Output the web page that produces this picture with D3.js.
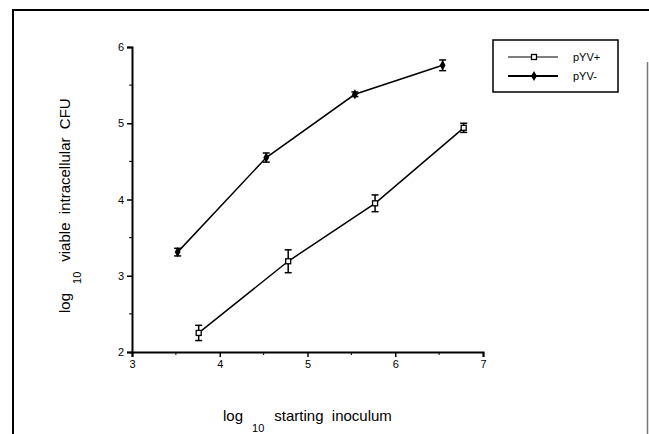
<!DOCTYPE html>
<html>
<head>
<meta charset="utf-8">
<script src="https://cdn.jsdelivr.net/npm/d3@7"></script>
<style>
  body { margin: 0; background: #fff; }
  svg { display: block; font-family: "Liberation Sans", Arial, sans-serif; }
  .title { white-space: pre; }
</style>
</head>
<body>
<svg width="649" height="434"></svg>
<script>
// data
var seriesNames = ['pYV+', 'pYV-'];
var plusX = [3.76, 4.78, 5.77, 6.78];
var plusY = [2.25, 3.19, 3.95, 4.94];
var plusErr = [0.10, 0.15, 0.11, 0.06];
var minusX = [3.52, 4.53, 5.54, 6.54];
var minusY = [3.31, 4.55, 5.38, 5.76];
var minusErr = [0.05, 0.06, 0.03, 0.07];
var xTicks = [3, 4, 5, 6, 7];
var yTicks = [2, 3, 4, 5, 6];

var svg = d3.select('svg');

var x = d3.scaleLinear().domain([3, 7]).range([132, 483]);
var y = d3.scaleLinear().domain([2, 6]).range([352, 47]);

// page frame
svg.append('path')
  .attr('d', 'M13,434 L13,10 L649,10')
  .attr('fill', 'none').attr('stroke', '#000').attr('stroke-width', 2);
svg.append('line')
  .attr('x1', 647.5).attr('x2', 647.5).attr('y1', 62).attr('y2', 434)
  .attr('stroke', '#777').attr('stroke-width', 1.5);

// axes
var xAxis = svg.append('g')
  .attr('transform', 'translate(0,352)')
  .call(d3.axisBottom(x).tickValues(xTicks).tickSize(5).tickFormat(d3.format('d')));
var yAxis = svg.append('g')
  .attr('transform', 'translate(132,0)')
  .call(d3.axisLeft(y).tickValues(yTicks).tickSize(5).tickFormat(d3.format('d')));

[xAxis, yAxis].forEach(function(a) {
  a.select('.domain').attr('stroke-width', 2);
  a.selectAll('.tick line').attr('stroke-width', 1.5);
  a.selectAll('.tick text').attr('font-size', 11).attr('font-family', '"Liberation Sans", Arial, sans-serif');
});

// minor ticks
svg.append('g').selectAll('line')
  .data([3.5, 4.5, 5.5, 6.5])
  .enter().append('line')
  .attr('x1', function(d) { return x(d); }).attr('x2', function(d) { return x(d); })
  .attr('y1', 352).attr('y2', 355)
  .attr('stroke', '#000');
svg.append('g').selectAll('line')
  .data([2.5, 3.5, 4.5, 5.5])
  .enter().append('line')
  .attr('y1', function(d) { return y(d); }).attr('y2', function(d) { return y(d); })
  .attr('x1', 129).attr('x2', 132)
  .attr('stroke', '#000');

function pts(xs, ys, es) {
  return xs.map(function(v, i) { return { x: v, y: ys[i], e: es[i] }; });
}
var plus = pts(plusX, plusY, plusErr);
var minus = pts(minusX, minusY, minusErr);

var line = d3.line().x(function(d) { return x(d.x); }).y(function(d) { return y(d.y); });

function drawSeries(data, filled) {
  var g = svg.append('g');
  g.append('path').attr('d', line(data))
    .attr('fill', 'none').attr('stroke', '#000').attr('stroke-width', 1.5);

  var eb = g.selectAll('.eb').data(data).enter().append('g');
  eb.append('line')
    .attr('x1', function(d) { return x(d.x); }).attr('x2', function(d) { return x(d.x); })
    .attr('y1', function(d) { return y(d.y + d.e); }).attr('y2', function(d) { return y(d.y - d.e); })
    .attr('stroke', '#000').attr('stroke-width', 1.5);
  [1, -1].forEach(function(s) {
    eb.append('line')
      .attr('x1', function(d) { return x(d.x) - 3.5; }).attr('x2', function(d) { return x(d.x) + 3.5; })
      .attr('y1', function(d) { return y(d.y + s * d.e); }).attr('y2', function(d) { return y(d.y + s * d.e); })
      .attr('stroke', '#000').attr('stroke-width', 1.5);
  });

  if (filled) {
    g.selectAll('.m').data(data).enter().append('path')
      .attr('transform', function(d) { return 'translate(' + x(d.x) + ',' + y(d.y) + ')'; })
      .attr('d', d3.symbol(d3.symbolDiamond, 30)())
      .attr('fill', '#000');
  } else {
    g.selectAll('.m').data(data).enter().append('rect')
      .attr('x', function(d) { return x(d.x) - 2.5; }).attr('y', function(d) { return y(d.y) - 2.5; })
      .attr('width', 5).attr('height', 5)
      .attr('fill', '#fff').attr('stroke', '#000').attr('stroke-width', 1.3);
  }
}
drawSeries(plus, false);
drawSeries(minus, true);

// legend
var lg = svg.append('g');
lg.append('rect').attr('x', 493).attr('y', 40).attr('width', 125).attr('height', 52)
  .attr('fill', '#fff').attr('stroke', '#000').attr('stroke-width', 1.5);
seriesNames.forEach(function(name, i) {
  var ly = 57 + i * 19;
  lg.append('line').attr('x1', 508).attr('x2', 558).attr('y1', ly).attr('y2', ly)
    .attr('stroke', '#000').attr('stroke-width', i === 0 ? 1.2 : 2);
  if (i === 0) {
    lg.append('rect').attr('x', 531.5).attr('y', ly - 2.5).attr('width', 5).attr('height', 5)
      .attr('fill', '#fff').attr('stroke', '#000').attr('stroke-width', 1.3);
  } else {
    lg.append('path').attr('transform', 'translate(534,' + ly + ')')
      .attr('d', d3.symbol(d3.symbolDiamond, 30)()).attr('fill', '#000');
  }
  lg.append('text').attr('x', 573).attr('y', ly + 4).attr('font-size', 11).text(name);
});

// axis titles
var xt = svg.append('text').attr('class', 'title').attr('x', 223).attr('y', 421).attr('font-size', 15);
xt.append('tspan').text('log');
xt.append('tspan').attr('dy', 11).attr('dx', 9).attr('font-size', 11).text('10');
xt.append('tspan').attr('dy', -11).attr('dx', 10).text('starting  inoculum');

var yt = svg.append('text').attr('class', 'title').attr('transform', 'translate(70,313) rotate(-90)').attr('font-size', 15);
yt.append('tspan').text('log');
yt.append('tspan').attr('dy', 11).attr('dx', 9).attr('font-size', 11).text('10');
yt.append('tspan').attr('dy', -11).attr('dx', 10).text('viable  intracellular  CFU');
</script>
</body>
</html>
